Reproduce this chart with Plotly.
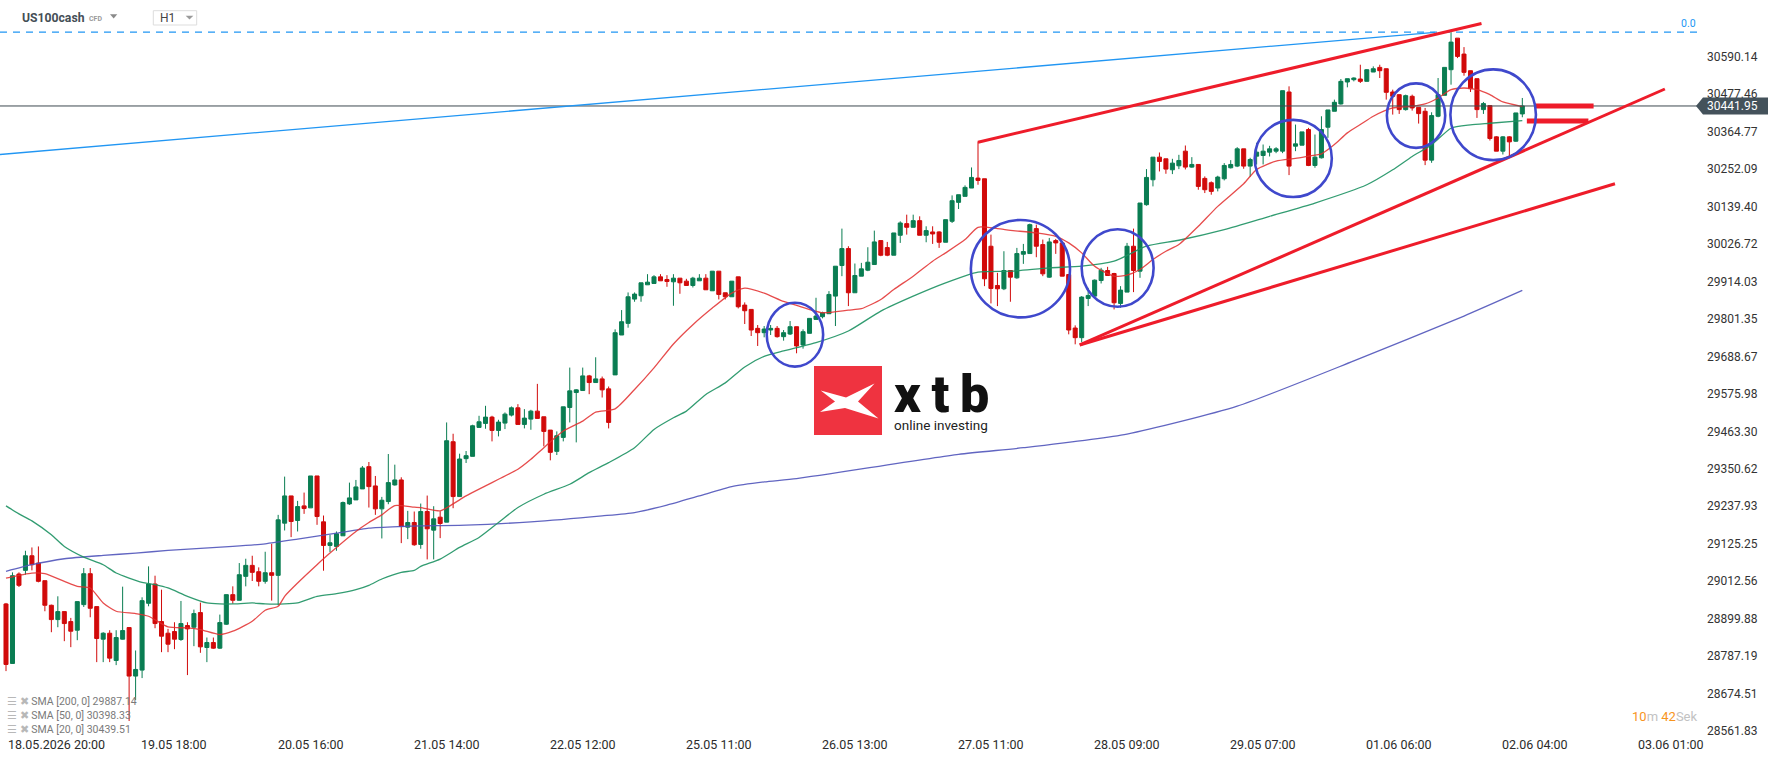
import plotly.graph_objects as go

# ---------------- data ----------------
opens = [28944, 28765, 29034, 29045, 29089, 29067, 29014, 28940, 28897, 28921,
         28891, 28865, 28942, 29035, 28936, 28838, 28856, 28774, 28838, 28873,
         28727, 28745, 28946, 29004, 28891, 28856, 28861, 28837, 28879, 28874,
         28918, 28813, 28828, 28811, 28883, 28972, 28955, 29027, 29060, 29041,
         29012, 29038, 29030, 29187, 29269, 29195, 29239, 29233, 29329, 29191,
         29120, 29117, 29149, 29245, 29257, 29290, 29357, 29299, 29230, 29252,
         29302, 29317, 29175, 29189, 29123, 29222, 29166, 29205, 29190, 29432,
         29267, 29381, 29388, 29475, 29487, 29506, 29466, 29488, 29512, 29534,
         29484, 29500, 29524, 29507, 29467, 29403, 29445, 29535, 29580, 29586,
         29630, 29610, 29621, 29591, 29633, 29753, 29788, 29861, 29871, 29904,
         29908, 29928, 29920, 29913, 29924, 29915, 29902, 29916, 29924, 29886,
         29945, 29880, 29868, 29928, 29843, 29830, 29773, 29760, 29768, 29773,
         29748, 29756, 29778, 29723, 29758, 29800, 29808, 29817, 29870, 29962,
         30013, 29880, 29930, 29948, 29965, 30037, 30016, 29993, 30053, 30088,
         30077, 30097, 30053, 30063, 30063, 30032, 30095, 30152, 30170, 30195,
         30225, 30223, 30020, 29902, 29892, 29947, 29925, 29996, 29998, 30073,
         30025, 29927, 30037, 30030, 29935, 29774, 29745, 29863, 29870, 29917,
         29947, 29938, 29848, 29882, 30020, 29945, 30145, 30220, 30288, 30283,
         30250, 30262, 30306, 30258, 30266, 30224, 30211, 30195, 30223, 30256,
         30261, 30313, 30261, 30291, 30293, 30303, 30306, 30306, 30484, 30321,
         30324, 30371, 30263, 30286, 30378, 30426, 30448, 30514, 30521, 30523,
         30516, 30544, 30558, 30554, 30484, 30476, 30431, 30471, 30438, 30426,
         30279, 30411, 30474, 30551, 30646, 30598, 30548, 30524, 30431, 30443,
         30349, 30306, 30349, 30336, 30418]
highs = [28947, 29039, 29039, 29104, 29114, 29117, 29014, 28942, 28967, 28921,
         28902, 28951, 29052, 29052, 28936, 28859, 28865, 28865, 28996, 28873,
         28804, 28964, 29057, 29029, 28987, 28869, 28889, 28953, 28889, 28927,
         28948, 28843, 28843, 28912, 28972, 28997, 29067, 29080, 29089, 29054,
         29101, 29125, 29212, 29327, 29269, 29254, 29279, 29329, 29329, 29210,
         29152, 29162, 29252, 29309, 29317, 29359, 29371, 29329, 29266, 29395,
         29363, 29325, 29224, 29222, 29246, 29270, 29238, 29223, 29490, 29456,
         29396, 29404, 29483, 29510, 29540, 29510, 29498, 29520, 29538, 29545,
         29530, 29528, 29606, 29507, 29467, 29463, 29537, 29655, 29590, 29655,
         29633, 29686, 29628, 29598, 29770, 29828, 29881, 29881, 29910, 29936,
         29933, 29936, 29933, 29936, 29924, 29922, 29928, 29936, 29936, 29945,
         29945, 29880, 29915, 29928, 29851, 29830, 29783, 29780, 29783, 29780,
         29768, 29795, 29778, 29770, 29803, 29865, 29823, 29885, 29960, 30073,
         30020, 29968, 29970, 30017, 30067, 30037, 30033, 30060, 30095, 30115,
         30115, 30110, 30080, 30080, 30065, 30100, 30173, 30175, 30203, 30257,
         30335, 30223, 30055, 29940, 30005, 29947, 30015, 30027, 30088, 30085,
         30040, 30045, 30042, 30030, 29935, 29782, 29870, 29895, 29920, 29955,
         29958, 29940, 29900, 30030, 30073, 30150, 30252, 30288, 30302, 30283,
         30283, 30295, 30323, 30288, 30266, 30230, 30215, 30232, 30270, 30279,
         30318, 30313, 30286, 30331, 30326, 30322, 30318, 30488, 30501, 30386,
         30364, 30376, 30356, 30411, 30430, 30461, 30523, 30524, 30528, 30566,
         30553, 30561, 30566, 30554, 30491, 30476, 30476, 30476, 30438, 30436,
         30423, 30526, 30558, 30664, 30646, 30619, 30548, 30524, 30454, 30443,
         30351, 30351, 30351, 30421, 30466]
lows = [28742, 28765, 28995, 29032, 29045, 29009, 28922, 28859, 28874, 28832,
        28814, 28835, 28935, 28904, 28769, 28769, 28769, 28760, 28837, 28592,
        28655, 28721, 28937, 28871, 28799, 28799, 28808, 28833, 28730, 28817,
        28797, 28769, 28809, 28809, 28881, 28945, 28955, 28997, 29013, 28997,
        29005, 28954, 28940, 29165, 29145, 29162, 29215, 29233, 29182, 29044,
        29100, 29104, 29149, 29242, 29257, 29290, 29234, 29212, 29141, 29244,
        29300, 29127, 29139, 29119, 29110, 29078, 29078, 29142, 29190, 29232,
        29267, 29368, 29388, 29475, 29471, 29433, 29448, 29470, 29508, 29484,
        29472, 29468, 29502, 29418, 29376, 29392, 29433, 29490, 29430, 29586,
        29575, 29610, 29565, 29472, 29633, 29753, 29775, 29853, 29853, 29904,
        29908, 29916, 29898, 29841, 29877, 29902, 29896, 29916, 29889, 29886,
        29860, 29860, 29868, 29833, 29786, 29750, 29720, 29746, 29753, 29745,
        29736, 29753, 29698, 29712, 29758, 29800, 29803, 29817, 29780, 29930,
        29840, 29880, 29930, 29945, 29965, 29990, 29990, 29993, 30030, 30055,
        30077, 30053, 30032, 30027, 30015, 30032, 30090, 30132, 30170, 30195,
        30205, 29900, 29848, 29840, 29888, 29853, 29922, 29967, 29998, 29987,
        29930, 29925, 29997, 29930, 29755, 29725, 29732, 29840, 29868, 29908,
        29932, 29830, 29835, 29882, 29882, 29925, 30142, 30200, 30245, 30238,
        30237, 30252, 30251, 30256, 30190, 30180, 30175, 30185, 30218, 30254,
        30258, 30253, 30229, 30266, 30266, 30290, 30300, 30300, 30234, 30306,
        30324, 30261, 30256, 30284, 30346, 30426, 30446, 30498, 30516, 30511,
        30516, 30544, 30526, 30461, 30416, 30418, 30428, 30428, 30389, 30264,
        30271, 30408, 30474, 30506, 30586, 30533, 30484, 30406, 30418, 30338,
        30306, 30296, 30286, 30334, 30408]
closes = [28762, 29029, 29000, 29089, 29062, 29012, 28940, 28897, 28921, 28885,
          28862, 28951, 29035, 28931, 28840, 28856, 28781, 28843, 28864, 28727,
          28747, 28954, 29004, 28885, 28847, 28823, 28838, 28885, 28869, 28915,
          28815, 28828, 28811, 28888, 28972, 28955, 29032, 29060, 29039, 29012,
          29038, 29030, 29197, 29269, 29192, 29237, 29231, 29329, 29207, 29120,
          29128, 29155, 29249, 29263, 29296, 29353, 29297, 29230, 29256, 29309,
          29317, 29177, 29189, 29122, 29222, 29170, 29200, 29186, 29435, 29267,
          29380, 29390, 29480, 29492, 29506, 29466, 29491, 29515, 29534, 29484,
          29503, 29524, 29502, 29463, 29400, 29450, 29537, 29585, 29588, 29630,
          29610, 29621, 29588, 29490, 29760, 29793, 29868, 29876, 29910, 29912,
          29928, 29916, 29914, 29924, 29910, 29902, 29924, 29924, 29889, 29945,
          29875, 29868, 29915, 29838, 29826, 29768, 29760, 29771, 29773, 29748,
          29760, 29778, 29720, 29763, 29803, 29810, 29820, 29875, 29960, 30013,
          29880, 29932, 29952, 29972, 30033, 29993, 29993, 30060, 30090, 30077,
          30097, 30053, 30067, 30057, 30032, 30100, 30157, 30175, 30197, 30227,
          30218, 29922, 29893, 29892, 29947, 29927, 29998, 30004, 30085, 30020,
          29937, 30033, 30030, 29930, 29768, 29745, 29867, 29872, 29918, 29948,
          29932, 29850, 29888, 30020, 29947, 30150, 30227, 30288, 30275, 30252,
          30270, 30278, 30258, 30266, 30200, 30190, 30185, 30228, 30263, 30266,
          30313, 30261, 30281, 30303, 30306, 30313, 30313, 30488, 30261, 30328,
          30364, 30263, 30288, 30371, 30430, 30453, 30516, 30524, 30526, 30516,
          30551, 30554, 30548, 30483, 30471, 30431, 30473, 30436, 30419, 30279,
          30413, 30476, 30558, 30634, 30591, 30543, 30494, 30431, 30449, 30344,
          30306, 30349, 30334, 30421, 30442]

# moving averages, read at sampled candle indices
sma20_idx = [0, 4, 6, 9, 11, 13, 15, 17, 20, 22, 25, 28, 30, 33, 35, 38, 40, 42, 43, 45,
             48, 50, 54, 56, 58, 60, 63, 64, 67, 69, 71, 74, 76, 79, 81, 83, 86, 89, 91, 94,
             97, 100, 103, 106, 109, 112, 114, 117, 120, 122, 126, 130, 132, 135, 137, 140, 143, 145, 148, 150,
             153, 155, 159, 162, 164, 166, 168, 171, 173, 175, 177, 179, 181, 184, 187, 191, 193, 196, 199, 201,
             203, 205, 207, 209, 211, 214, 217, 219, 221, 223, 225, 227, 229, 231, 234]
sma20_val = [29022, 29037, 29035, 29012, 28997, 28992, 28947, 28922, 28915, 28907,
             28875, 28872, 28867, 28852, 28862, 28892, 28925, 28937, 28967, 29007,
             29062, 29097, 29162, 29189, 29212, 29240, 29235, 29234, 29224, 29245,
             29269, 29299, 29319, 29349, 29379, 29414, 29464, 29494, 29521, 29531,
             29589, 29654, 29726, 29784, 29834, 29879, 29894, 29879, 29854, 29842,
             29820, 29828, 29832, 29860, 29890, 29930, 29975, 30000, 30040, 30077,
             30073, 30068, 30060, 30050, 30030, 30000, 29960, 29930, 29933, 29950,
             29980, 30005, 30025, 30080, 30140, 30208, 30251, 30276, 30284, 30291,
             30298, 30326, 30361, 30386, 30411, 30436, 30441, 30448, 30466, 30491,
             30496, 30491, 30476, 30454, 30440]
sma50_idx = [0, 2, 4, 7, 9, 12, 15, 17, 21, 23, 25, 28, 31, 33, 35, 38, 40, 43, 45, 48,
             51, 54, 56, 58, 61, 63, 64, 67, 70, 73, 76, 79, 83, 87, 90, 93, 97, 100, 103, 105,
             108, 111, 114, 117, 120, 122, 125, 130, 135, 140, 145, 150, 155, 161, 166, 171, 176, 181, 188, 195,
             202, 210, 214, 217, 220, 223, 226, 229, 234]
sma50_val = [29239, 29215, 29194, 29152, 29117, 29085, 29062, 29037, 29009, 29002,
             28992, 28967, 28947, 28944, 28944, 28947, 28944, 28944, 28947, 28967,
             28975, 28987, 29000, 29019, 29039, 29045, 29057, 29079, 29114, 29144,
             29189, 29234, 29274, 29304, 29339, 29369, 29414, 29469, 29504, 29524,
             29574, 29609, 29657, 29689, 29705, 29715, 29730, 29765, 29825, 29870,
             29910, 29942, 29945, 29955, 29960, 29975, 30020, 30038, 30070, 30110,
             30150, 30205, 30250, 30290, 30325, 30375, 30385, 30390, 30398]
sma200_idx = [0, 4, 9, 15, 20, 25, 30, 35, 40, 45, 51, 56, 61, 64, 71, 81, 92, 97, 102, 107,
              112, 117, 122, 147, 157, 173, 190, 208, 225, 234]
sma200_val = [29042, 29062, 29080, 29090, 29097, 29105, 29111, 29117, 29125, 29139,
              29157, 29172, 29177, 29179, 29181, 29191, 29209, 29219, 29241, 29269,
              29297, 29311, 29321, 29394, 29414, 29455, 29539, 29675, 29810, 29887]

x_label_idx = [5, 26, 47, 68, 89, 110, 131, 152, 173, 194, 215, 236, 257]
x_label_text = ["18.05.2026 20:00", "19.05 18:00", "20.05 16:00", "21.05 14:00", "22.05 12:00",
                "25.05 11:00", "26.05 13:00", "27.05 11:00", "28.05 09:00", "29.05 07:00",
                "01.06 06:00", "02.06 04:00", "03.06 01:00"]
y_tick_text = ["28561.83", "28674.51", "28787.19", "28899.88", "29012.56", "29125.25",
               "29237.93", "29350.62", "29463.30", "29575.98", "29688.67", "29801.35",
               "29914.03", "30026.72", "30139.40", "30252.09", "30364.77", "30477.46", "30590.14"]

symbol = "US100cash"
timeframe = "H1"
last_price = 30441.95
fib_zero_level = 30664
fib_zero_text = "0.0"
legend_labels = ["SMA [200, 0] 29887.14", "SMA [50, 0] 30398.33", "SMA [20, 0] 30439.51"]

# user drawings, in (candle index, price)
blue_trend = (-0.93, 30296, 220.5, 30663.5)
red_trends = [(150, 30333, 227.7, 30690),
              (165.7, 29723, 256, 30493),
              (165.7, 29723, 248.3, 30208)]
red_marks = [(236, 30442, 245, 30442), (234.7, 30397, 244.2, 30397)]
circles = [(117.4, 29658, 126.1, 29850),
           (148.9, 29806, 164.2, 30099),
           (166.0, 29838, 177.1, 30071),
           (192.7, 30168, 204.6, 30400),
           (213.1, 30316, 222.1, 30510),
           (222.9, 30279, 236.1, 30552)]

# ---------------- geometry / style ----------------
W, H = 1768, 761
MR, MB = 68, 26
PW, PH = W - MR, H - MB
X0, X1 = -0.926, 261.42
Y0, Y1 = 28549.8, 30760.7
FONT = "Roboto, 'Noto Sans', sans-serif"
GREEN = "#0a7d52"
RED = "#d10a0a"


def pxx(px):
    return px / PW


def pxy(py):
    return (PH - py) / PH


def pr2px(p):
    return (Y1 - p) / (Y1 - Y0) * PH


fig = go.Figure()
fig.add_trace(go.Scatter(x=sma200_idx, y=sma200_val, mode="lines",
                         line=dict(color="rgba(80,84,186,0.9)", width=1.3, shape="spline", smoothing=0.6),
                         hoverinfo="skip", showlegend=False))
fig.add_trace(go.Scatter(x=sma50_idx, y=sma50_val, mode="lines",
                         line=dict(color="rgba(28,145,98,0.9)", width=1.3, shape="spline", smoothing=0.6),
                         hoverinfo="skip", showlegend=False))
fig.add_trace(go.Scatter(x=sma20_idx, y=sma20_val, mode="lines",
                         line=dict(color="rgba(226,45,45,0.85)", width=1.3, shape="spline", smoothing=0.6),
                         hoverinfo="skip", showlegend=False))
fig.add_trace(go.Candlestick(x=list(range(len(opens))), open=opens, high=highs, low=lows, close=closes,
                             increasing=dict(line=dict(color=GREEN, width=1), fillcolor=GREEN),
                             decreasing=dict(line=dict(color=RED, width=1), fillcolor=RED),
                             whiskerwidth=0, hoverinfo="skip", showlegend=False))

shapes = []
# fib 0.0 dashed level
shapes.append(dict(type="line", xref="paper", yref="y", x0=0, x1=1, y0=fib_zero_level, y1=fib_zero_level,
                   line=dict(color="#2196f3", width=1.2, dash="7px,6px")))
# last price line
shapes.append(dict(type="line", xref="paper", yref="y", x0=0, x1=pxx(1697), y0=last_price, y1=last_price,
                   line=dict(color="#3d4850", width=1)))
# blue trend line
bx0, by0, bx1, by1 = blue_trend
shapes.append(dict(type="line", xref="x", yref="y", x0=bx0, y0=by0, x1=bx1, y1=by1,
                   line=dict(color="#2196f3", width=1.3)))
for (a, b, c, d) in red_trends:
    shapes.append(dict(type="line", xref="x", yref="y", x0=a, y0=b, x1=c, y1=d,
                       line=dict(color="#ee1c2a", width=3)))
for (a, b, c, d) in red_marks:
    shapes.append(dict(type="line", xref="x", yref="y", x0=a, y0=b, x1=c, y1=d,
                       line=dict(color="#ee1c2a", width=5)))
for (a, b, c, d) in circles:
    shapes.append(dict(type="circle", xref="x", yref="y", x0=a, y0=b, x1=c, y1=d,
                       line=dict(color="#3f48cc", width=2.6)))

# price tag on the axis
yc = pr2px(last_price)
tag = [(1696, yc), (1703, yc - 8.5), (1768, yc - 8.5), (1768, yc + 8.5), (1703, yc + 8.5)]
path = "M " + " L ".join(f"{pxx(x):.5f},{pxy(y):.5f}" for x, y in tag) + " Z"
shapes.append(dict(type="path", xref="paper", yref="paper", path=path,
                   fillcolor="#44525b", line=dict(width=0)))

# header box + dropdown triangles
shapes.append(dict(type="rect", xref="paper", yref="paper", x0=pxx(153.3), x1=pxx(196.7),
                   y0=pxy(25), y1=pxy(10.7), line=dict(color="#dddddd", width=1), fillcolor="white"))
for (tx0, tx1, ty0, ty1, col) in [(110, 117.3, 14.3, 18.6, "#8a8a8a"), (185.7, 193.3, 15.7, 19.5, "#9a9a9a")]:
    p = f"M {pxx(tx0)},{pxy(ty0)} L {pxx(tx1)},{pxy(ty0)} L {pxx((tx0 + tx1) / 2)},{pxy(ty1)} Z"
    shapes.append(dict(type="path", xref="paper", yref="paper", path=p, fillcolor=col, line=dict(width=0)))

# xtb logo
shapes.append(dict(type="rect", xref="paper", yref="paper", x0=pxx(814), x1=pxx(882), y0=pxy(435), y1=pxy(366),
                   fillcolor="#ef3340", line=dict(width=0)))
xshape = [(820.7, 390.5), (846, 397.5), (874.5, 383.5), (858, 401.5), (878.5, 418.5),
          (845, 408), (820, 412), (835, 401.5)]
p = "M " + " L ".join(f"{pxx(x):.5f},{pxy(y):.5f}" for x, y in xshape) + " Z"
shapes.append(dict(type="path", xref="paper", yref="paper", path=p, fillcolor="white", line=dict(width=0)))

annotations = []


def ann(text, x, y, xref="paper", yref="paper", xanchor="center", yanchor="middle", size=12,
        color="#333333", family=FONT, align="center"):
    annotations.append(dict(text=text, x=x, y=y, xref=xref, yref=yref, xanchor=xanchor, yanchor=yanchor,
                            align=align, showarrow=False, font=dict(family=family, size=size, color=color)))


# x-axis labels
for i, (ix, txt) in enumerate(zip(x_label_idx, x_label_text)):
    if i == 0:
        ann(txt, pxx(6), pxy(744), xanchor="left", size=12.5, color="#2b2b2b")
    else:
        ann(txt, ix, pxy(744), xref="x", size=12.5, color="#2b2b2b")

# SMA legend
for lbl, py in zip(legend_labels, [701.7, 715, 729.3]):
    ann(f"<span style='color:#b8b8b8'>☰ ✖</span> {lbl}", pxx(5), pxy(py), xanchor="left", size=10.5,
        color="#7a7a7a")

# header
ann(f"<b>{symbol}</b>", pxx(20), pxy(17.8), xanchor="left", size=12.2, color="#454e56")
ann("<b>CFD</b>", pxx(87), pxy(18.8), xanchor="left", size=7, color="#9a9a9a")
ann(timeframe, pxx(158), pxy(18.3), xanchor="left", size=12, color="#454545")
ann(fib_zero_text, pxx(1697.5), pxy(23.3), xanchor="right", size=10.5, color="#2196f3")
ann(f"{last_price:.2f}", pxx(1732.5), pxy(yc), size=12, color="white")
ann("<span style='color:#f7941d'>10</span><span style='color:#c2c2c2'>m </span>"
    "<span style='color:#f7941d'>42</span><span style='color:#c2c2c2'>Sek</span>",
    pxx(1699), pxy(716), xanchor="right", size=13)

# logo text (one block: brand + tagline)
ann("<span style='font-size:52px;font-weight:900;color:#111111'>x\u2009t\u2009b</span><br>online investing",
    pxx(892), pxy(398), xanchor="left", size=13.5, color="#222222", align="left")

fig.update_layout(
    width=W, height=H,
    margin=dict(l=0, r=MR, t=0, b=MB, pad=0),
    paper_bgcolor="white", plot_bgcolor="white",
    showlegend=False, hovermode=False,
    boxgap=0.38, boxgroupgap=0,
    shapes=shapes, annotations=annotations,
    xaxis=dict(range=[X0, X1], showgrid=False, zeroline=False, showticklabels=False, showline=False,
               rangeslider=dict(visible=False), fixedrange=True),
    yaxis=dict(range=[Y0, Y1], side="right", showgrid=False, zeroline=False, showline=False, ticks="",
               tickvals=[float(t) for t in y_tick_text], ticktext=y_tick_text,
               tickfont=dict(family=FONT, size=12, color="#333333"), ticklabelstandoff=6, fixedrange=True),
)

fig.write_html("out.html", config={"displayModeBar": False})
